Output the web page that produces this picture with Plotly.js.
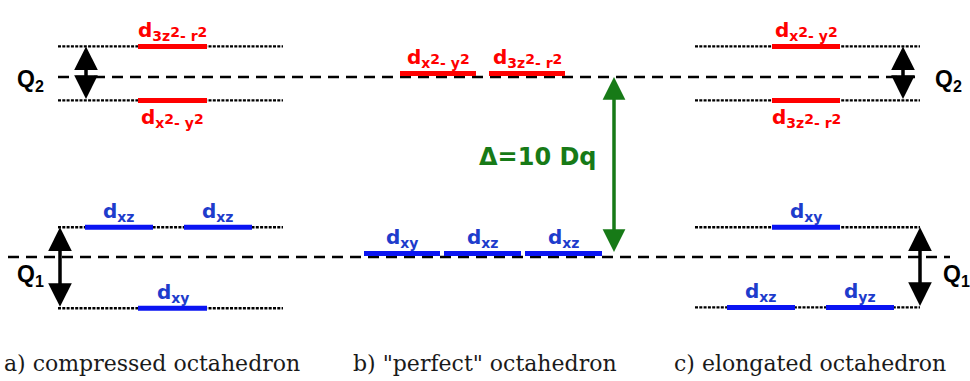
<!DOCTYPE html>
<html><head><meta charset="utf-8">
<script src="https://cdn.plot.ly/plotly-3.0.1.min.js"></script>
<style>html,body{margin:0;padding:0;background:#fff}</style>
</head><body><div id="chart" style="width:970px;height:381px"></div>
<script>
// ---------------- data (orbital energies in Dq) ----------------
const panelTitles = ['a) compressed octahedron', 'b) "perfect" octahedron', 'c) elongated octahedron'];
const egBaseline = 10;     // 10 Dq
const t2gBaseline = 0;
const SQ = '<span style="font-size:14px">2</span>';
const Z2 = 'd<sub>3z</sub>' + SQ + '<sub>- r</sub>' + SQ;
const X2 = 'd<sub>x</sub>' + SQ + '<sub>- y</sub>' + SQ;
// panel a: compressed
const aEgNames = [Z2, X2];
const aEgEnergy = [11.7, 8.7];
const aT2gNames = ['d<sub>xz</sub>', 'd<sub>xz</sub>', 'd<sub>xy</sub>'];
const aT2gEnergy = [1.65, 1.65, -2.85];
// panel b: perfect
const bEgNames = [X2, Z2];
const bEgEnergy = [10.2, 10.2];
const bT2gNames = ['d<sub>xy</sub>', 'd<sub>xz</sub>', 'd<sub>xz</sub>'];
const bT2gEnergy = [0.2, 0.2, 0.2];
// panel c: elongated
const cEgNames = [X2, Z2];
const cEgEnergy = [11.7, 8.7];
const cT2gNames = ['d<sub>xy</sub>', 'd<sub>xz</sub>', 'd<sub>yz</sub>'];
const cT2gEnergy = [1.65, -2.8, -2.8];
const splitLabels = ['Q<sub>2</sub>', 'Q<sub>1</sub>'];
const deltaLabel = 'Δ=10 Dq';

// ---------------- layout positions / styles ----------------
const aEgSpans = [[138,207],[138,207]];
const aT2gSpans = [[85,153],[184,252],[138,207]];
const bEgSpans = [[400,476],[489,565]];
const bT2gSpans = [[364,440],[444,521],[525,602]];
const cEgSpans = [[772,840],[772,840]];
const cT2gSpans = [[772,840],[727,795],[826,894]];
const aLevelSpan = [58,283], cLevelSpan = [695,920];
const egDashSpan = [58,915], t2gDashSpan = [8,950];
const RED = '#ff0000', BLUE_BAR = '#0a14f2', BLUE_TXT = '#1e3ccc', GREEN = '#177a17';

function segs(spans, energies){
  const x=[], y=[];
  spans.forEach((s,i)=>{ x.push(s[0], s[1], null); y.push(energies[i], energies[i], null); });
  return {x, y};
}
const uniq = a => [...new Set(a)];

const traces = [];
const dotLevels = [];
[[aLevelSpan, uniq(aEgEnergy.concat(aT2gEnergy))],[cLevelSpan, uniq(cEgEnergy.concat(cT2gEnergy))]].forEach(([sp, lv])=>{
  lv.forEach(e=>dotLevels.push({sp, e}));
});
const dl = segs(dotLevels.map(d=>d.sp), dotLevels.map(d=>d.e));
traces.push({type:'scatter', mode:'lines', x:dl.x, y:dl.y, line:{color:'#000', width:2.4, dash:'3px,1.3px'}, hoverinfo:'skip'});
const db = segs([egDashSpan, t2gDashSpan], [egBaseline, t2gBaseline]);
traces.push({type:'scatter', mode:'lines', x:db.x, y:db.y, line:{color:'#000', width:2.5, dash:'11px,7px'}, hoverinfo:'skip'});
const eg = segs(aEgSpans.concat(bEgSpans, cEgSpans), aEgEnergy.concat(bEgEnergy, cEgEnergy));
traces.push({type:'scatter', mode:'lines', x:eg.x, y:eg.y, line:{color:RED, width:5}, hoverinfo:'skip'});
const t2 = segs(aT2gSpans.concat(bT2gSpans, cT2gSpans), aT2gEnergy.concat(bT2gEnergy, cT2gEnergy));
traces.push({type:'scatter', mode:'lines', x:t2.x, y:t2.y, line:{color:BLUE_BAR, width:5}, hoverinfo:'skip'});

const ann = [];
const lblFont = (c)=>({family:'DejaVu Sans, sans-serif', size:20, color:c, weight:700});
function label(text, span, e, above, color){
  ann.push({x:(span[0]+span[1])/2, y:e, xref:'x', yref:'y', text, showarrow:false,
    xanchor:'center', yanchor: above?'bottom':'top', yshift: above?0:-3, font:lblFont(color)});
}
label(aEgNames[0], aEgSpans[0], aEgEnergy[0], true, RED);
label(aEgNames[1], aEgSpans[1], aEgEnergy[1], false, RED);
bEgNames.forEach((n,i)=>label(n, bEgSpans[i], bEgEnergy[i], true, RED));
label(cEgNames[0], cEgSpans[0], cEgEnergy[0], true, RED);
label(cEgNames[1], cEgSpans[1], cEgEnergy[1], false, RED);
aT2gNames.forEach((n,i)=>label(n, aT2gSpans[i], aT2gEnergy[i], true, BLUE_TXT));
bT2gNames.forEach((n,i)=>label(n, bT2gSpans[i], bT2gEnergy[i], true, BLUE_TXT));
cT2gNames.forEach((n,i)=>label(n, cT2gSpans[i], cT2gEnergy[i], true, BLUE_TXT));

function dblArrow(x, e1, e2, color, w, s){
  ann.push({x, y:e1, ax:x, ay:e2, xref:'x', yref:'y', axref:'x', ayref:'y', text:'', showarrow:true,
    arrowhead:2, startarrowhead:2, arrowside:'end+start', arrowsize:s, startarrowsize:s, arrowwidth:w, arrowcolor:color, standoff:0, startstandoff:0});
}
dblArrow(86, aEgEnergy[0], aEgEnergy[1], '#000', 3.5, 1.35);
dblArrow(60, aT2gEnergy[0], aT2gEnergy[2], '#000', 3.5, 1.35);
dblArrow(903, cEgEnergy[0], cEgEnergy[1], '#000', 3.5, 1.35);
dblArrow(920, cT2gEnergy[0], cT2gEnergy[1], '#000', 3.5, 1.35);
dblArrow(614, egBaseline, bT2gEnergy[0], GREEN, 3.5, 1.3);

const qFont = {family:'Liberation Sans, Arial, sans-serif', size:23, color:'#000', weight:700};
ann.push({x:30, y:egBaseline, text:splitLabels[0], showarrow:false, xanchor:'center', yanchor:'middle', yshift:-3, font:qFont});
ann.push({x:30, y:-1.0, text:splitLabels[1], showarrow:false, xanchor:'center', yanchor:'middle', font:qFont});
ann.push({x:948, y:egBaseline, text:splitLabels[0], showarrow:false, xanchor:'center', yanchor:'middle', yshift:-3, font:qFont});
ann.push({x:956, y:-1.0, text:splitLabels[1], showarrow:false, xanchor:'center', yanchor:'middle', font:qFont});
ann.push({x:599, y:(egBaseline+bT2gEnergy[0])/2, text:deltaLabel, showarrow:false, xanchor:'right', yanchor:'middle', yshift:8,
  font:{family:'DejaVu Sans, sans-serif', size:24, color:GREEN, weight:700}});
const capX = [152, 485, 810];
panelTitles.forEach((t,i)=>ann.push({x:capX[i], y:0.045, xref:'x', yref:'paper', text:t, showarrow:false,
  xanchor:'center', yanchor:'middle', font:{family:'DejaVu Serif, serif', size:22, color:'#1a1a1a'}}));

const layout = {
  width:970, height:381, margin:{l:0,r:0,t:0,b:0}, paper_bgcolor:'#fff', plot_bgcolor:'#fff',
  showlegend:false,
  xaxis:{range:[0,970], visible:false, fixedrange:true},
  yaxis:{range:[-6.889, 14.278], visible:false, fixedrange:true},
  annotations: ann
};
Plotly.newPlot('chart', traces, layout, {staticPlot:true, displayModeBar:false});
</script></body></html>
